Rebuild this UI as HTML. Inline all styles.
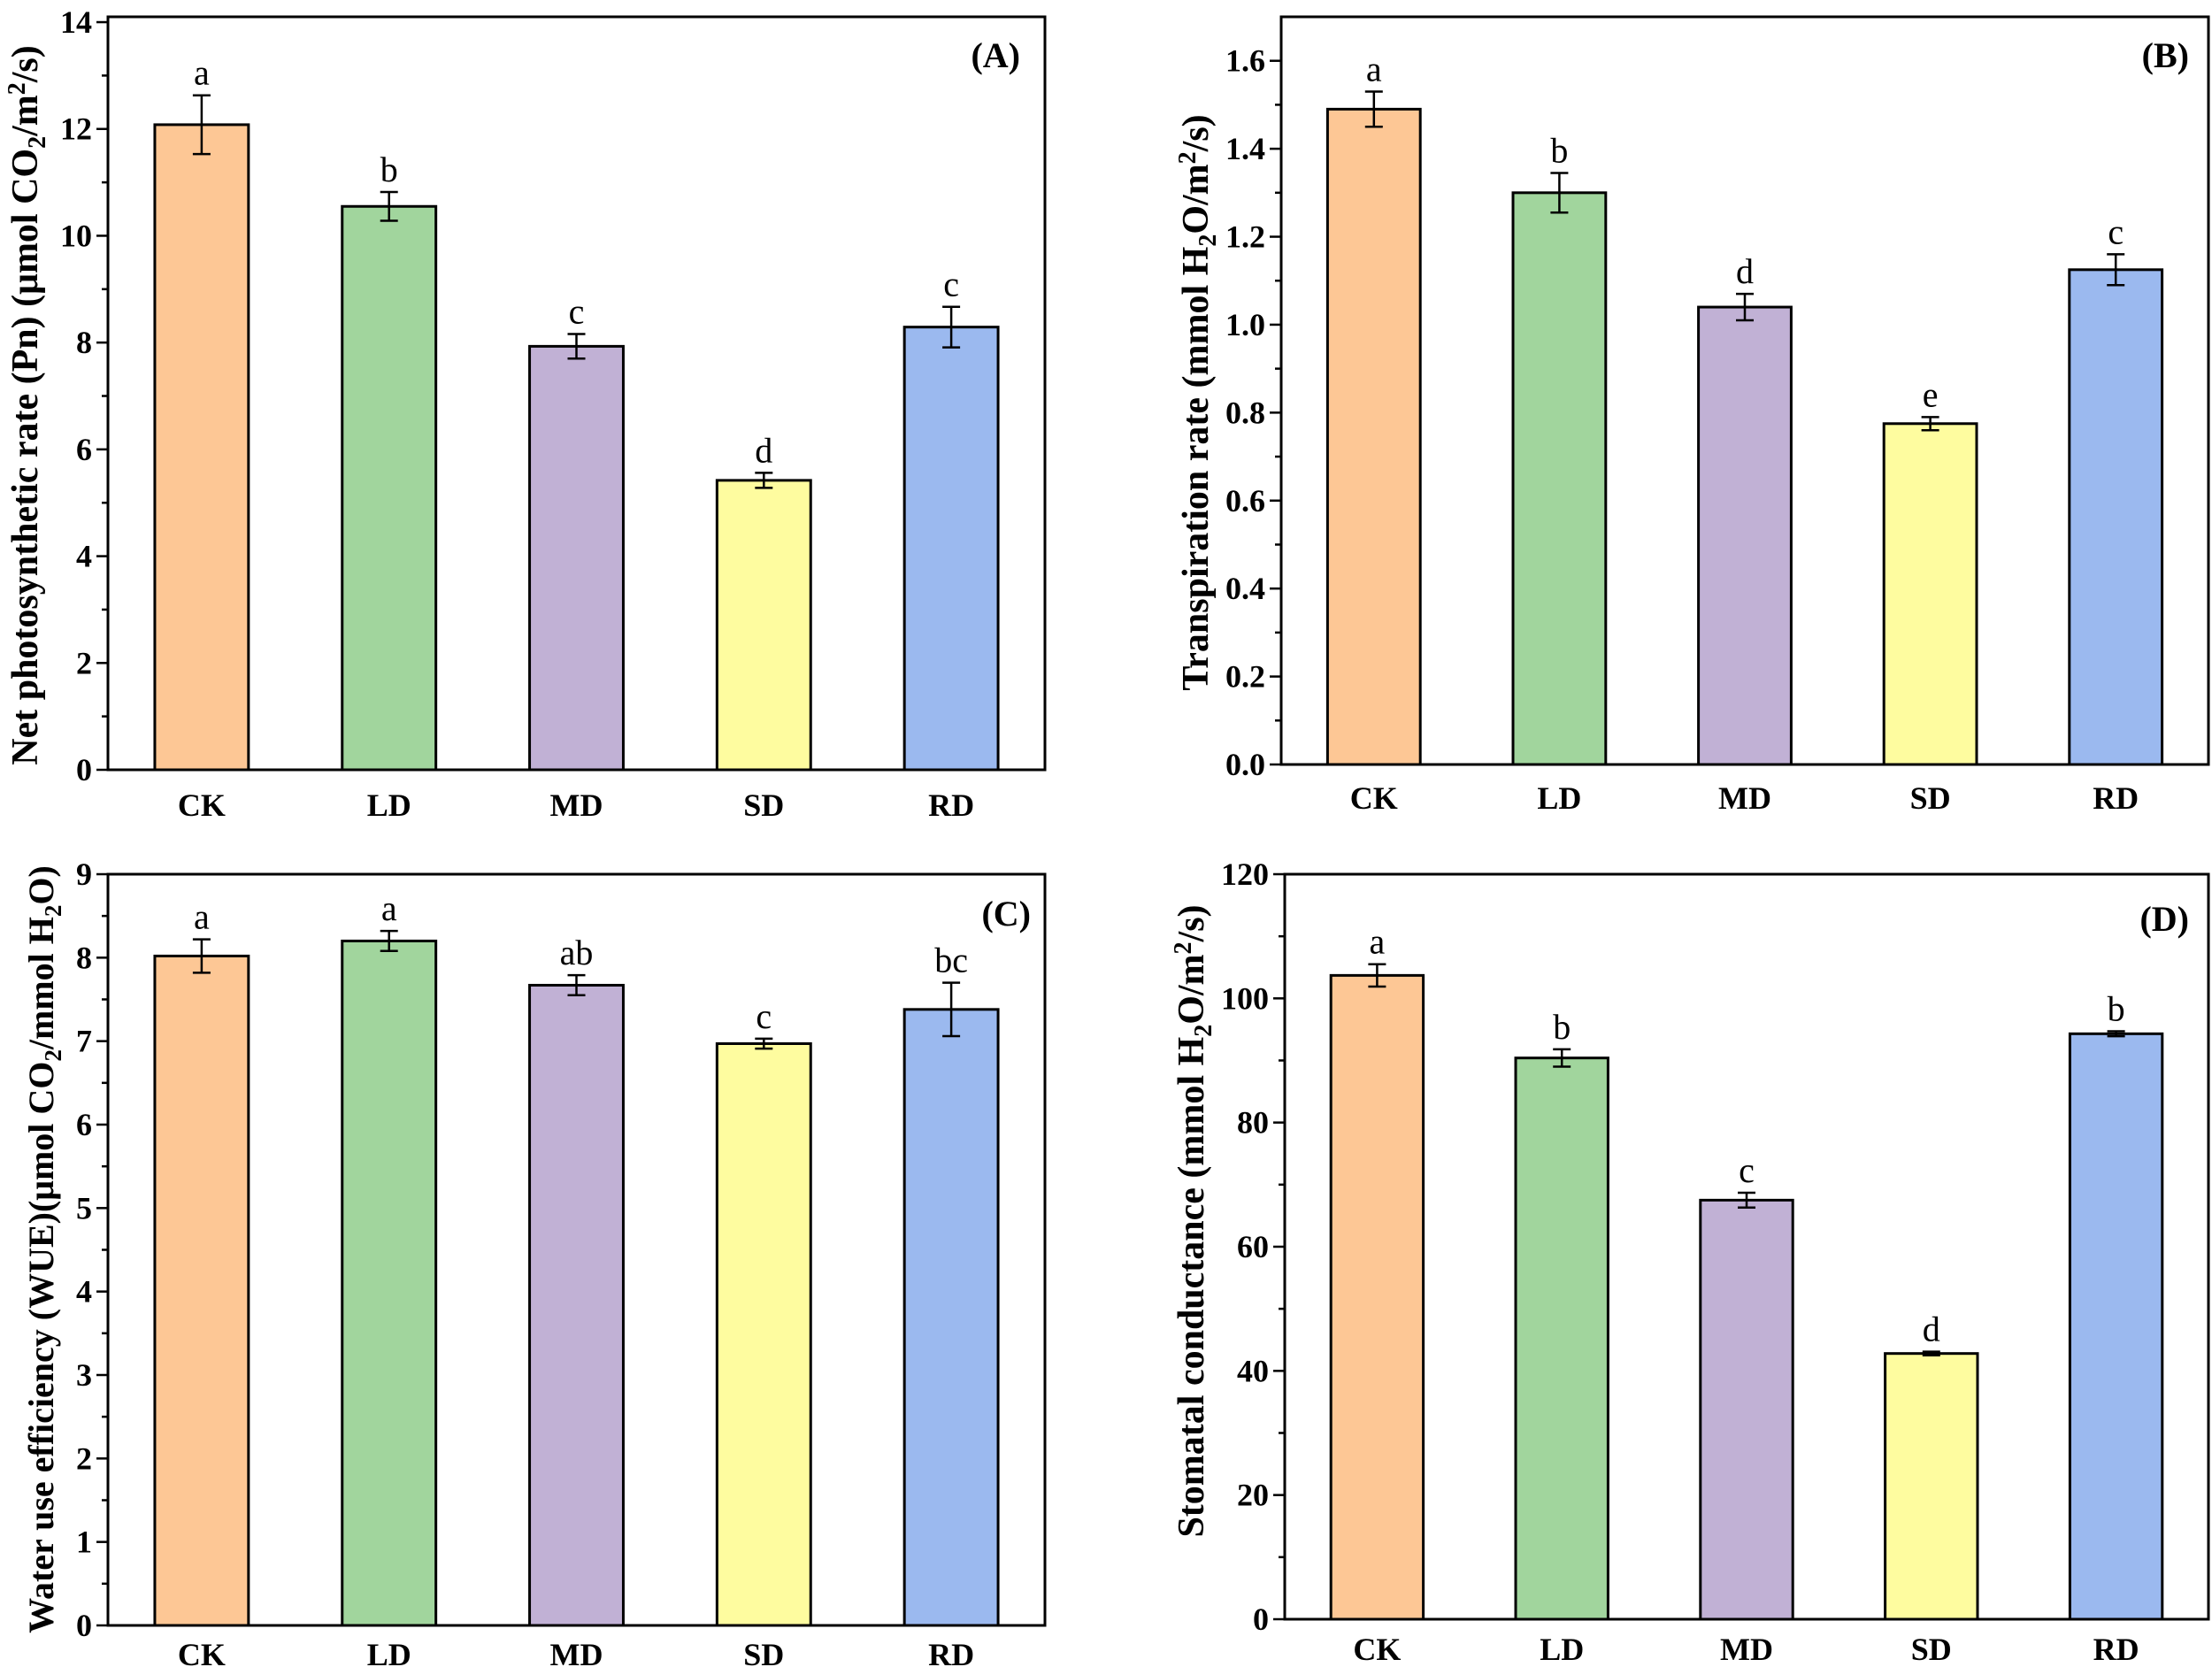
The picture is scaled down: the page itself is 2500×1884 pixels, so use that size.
<!DOCTYPE html>
<html><head><meta charset="utf-8"><style>
html,body{margin:0;padding:0;background:#fff;}
svg{display:block;font-family:"Liberation Serif",serif;}
</style></head><body>
<svg id="fig" width="2500" height="1884" viewBox="0 0 2500 1884" xmlns="http://www.w3.org/2000/svg"></svg>
<script>
const categories = ["CK","LD","MD","SD","RD"];
const barColors = ["#FDC795","#A1D59D","#C1B1D5","#FEFC9F","#9BB9EF"];

const pnValues = [12.08, 10.55, 7.93, 5.42, 8.29];
const pnErrors = [0.55, 0.27, 0.23, 0.14, 0.38];
const pnLetters = ["a","b","c","d","c"];
const pnTicks = [0,2,4,6,8,10,12,14];
const pnTickLabels = ["0","2","4","6","8","10","12","14"];

const trValues = [1.49, 1.30, 1.04, 0.775, 1.125];
const trErrors = [0.04, 0.045, 0.03, 0.015, 0.035];
const trLetters = ["a","b","d","e","c"];
const trTicks = [0,0.2,0.4,0.6,0.8,1.0,1.2,1.4,1.6];
const trTickLabels = ["0.0","0.2","0.4","0.6","0.8","1.0","1.2","1.4","1.6"];

const wueValues = [8.02, 8.20, 7.67, 6.97, 7.38];
const wueErrors = [0.20, 0.12, 0.12, 0.06, 0.32];
const wueLetters = ["a","a","ab","c","bc"];
const wueTicks = [0,1,2,3,4,5,6,7,8,9];
const wueTickLabels = ["0","1","2","3","4","5","6","7","8","9"];

const gsValues = [103.7, 90.4, 67.5, 42.8, 94.3];
const gsErrors = [1.8, 1.4, 1.2, 0.3, 0.4];
const gsLetters = ["a","b","c","d","b"];
const gsTicks = [0,20,40,60,80,100,120];
const gsTickLabels = ["0","20","40","60","80","100","120"];

const NS = "http://www.w3.org/2000/svg";
const svg = document.getElementById("fig");
function mk(tag, attrs, parent){
  const e = document.createElementNS(NS, tag);
  for (const k in attrs) e.setAttribute(k, attrs[k]);
  (parent||svg).appendChild(e);
  return e;
}

function panel(cfg){
  const g = mk("g", {});
  
  
  const W = cfg.right - cfg.left, H = cfg.bottom - cfg.top;
  const y = v => cfg.bottom - v / cfg.ymax * H;
  const band = W / categories.length;
  const xc = i => cfg.left + band * (i + 0.5);
  for (let k = 0; k < cfg.ticks.length - 1; k++) {
    const mv = (cfg.ticks[k] + cfg.ticks[k+1]) / 2;
    const t = mk("line", {x1:cfg.left-7, x2:cfg.left, y1:y(mv), y2:y(mv), stroke:"#000","stroke-width":2.5}, g);
    
    
  }
  if (cfg.extraMinor) {
    const last = cfg.ticks[cfg.ticks.length-1];
    const step = cfg.ticks[1]-cfg.ticks[0];
    const mv = last + step/2;
    if (mv <= cfg.ymax) {
      const t = mk("line", {x1:cfg.left-7, x2:cfg.left, y1:y(mv), y2:y(mv), stroke:"#000","stroke-width":2.5}, g);
      
      
    }
  }
  cfg.ticks.forEach((tv, k) => {
    const t = mk("line", {x1:cfg.left-13, x2:cfg.left, y1:y(tv), y2:y(tv), stroke:"#000","stroke-width":2.5}, g);
    
    
    const lb = mk("text", {x:cfg.left-18, y:y(tv)+12, "text-anchor":"end", "font-size":36, "font-weight":"bold"}, g);
    lb.textContent = cfg.tickLabels[k];
    
    
  });
  const bw = band / 2;
  categories.forEach((c, i) => {
    const v = cfg.values[i], e = cfg.errors[i];
    const r = mk("rect", {x:xc(i)-bw/2, y:y(v), width:bw, height:cfg.bottom-y(v), fill:barColors[i], stroke:"#000","stroke-width":3}, g);
    
    
    const eb = mk("path", {d:`M${xc(i)},${y(v+e)}V${y(v-e)}M${xc(i)-10},${y(v+e)}H${xc(i)+10}M${xc(i)-10},${y(v-e)}H${xc(i)+10}`, stroke:"#000","stroke-width":2.5, fill:"none"}, g);
    
    
    const lt = mk("text", {x:xc(i), y:y(v+e)-12, "text-anchor":"middle", "font-size":40}, g);
    lt.textContent = cfg.letters[i];
    
    
    const cl = mk("text", {x:xc(i), y:cfg.catY, "text-anchor":"middle", "font-size":36, "font-weight":"bold"}, g);
    cl.textContent = c;
    
    
  });
  const fr = mk("rect", {x:cfg.left, y:cfg.top, width:W, height:H, fill:"none", stroke:"#000","stroke-width":3}, g);
  
  
  const pl = mk("text", {x:cfg.labX, y:cfg.labY, "text-anchor":"end", "font-size":40, "font-weight":"bold"}, g);
  pl.textContent = cfg.label;
  
  
  const yt = mk("text", {transform:`translate(${cfg.titleX},${cfg.titleY}) rotate(-90)`, "text-anchor":"middle", "font-size":cfg.titleSize, "font-weight":"bold"}, g);
  yt.innerHTML = cfg.title;
  
  
}

panel({name:"panel-a-net-photosynthesis", left:122, right:1181, top:19, bottom:870, ymax:14.1,
  values:pnValues, errors:pnErrors, letters:pnLetters, ticks:pnTicks, tickLabels:pnTickLabels,
  catY:922, label:"(A)", labX:1153, labY:76, titleX:42, titleY:458, titleSize:42,
  title:'Net photosynthetic rate (Pn) (μmol CO<tspan font-size="28" dy="9">2</tspan><tspan dy="-9">/m</tspan><tspan font-size="28" dy="-14">2</tspan><tspan dy="14">/s)</tspan>'});

panel({name:"panel-b-transpiration", left:1448, right:2496, top:19, bottom:864, ymax:1.7, extraMinor:true,
  values:trValues, errors:trErrors, letters:trLetters, ticks:trTicks, tickLabels:trTickLabels,
  catY:914, label:"(B)", labX:2474, labY:76, titleX:1365, titleY:455, titleSize:42,
  title:'Transpiration rate (mmol H<tspan font-size="28" dy="9">2</tspan><tspan dy="-9">O/m</tspan><tspan font-size="28" dy="-14">2</tspan><tspan dy="14">/s)</tspan>'});

panel({name:"panel-c-water-use-efficiency", left:122, right:1181, top:988, bottom:1837, ymax:9,
  values:wueValues, errors:wueErrors, letters:wueLetters, ticks:wueTicks, tickLabels:wueTickLabels,
  catY:1882, label:"(C)", labX:1165, labY:1046, titleX:60, titleY:1412, titleSize:40,
  title:'Water use efficiency (WUE)(μmol CO<tspan font-size="27" dy="9">2</tspan><tspan dy="-9">/mmol H</tspan><tspan font-size="27" dy="9">2</tspan><tspan dy="-9">O)</tspan>'});

panel({name:"panel-d-stomatal-conductance", left:1452, right:2496, top:988, bottom:1830, ymax:120, extraMinor:true,
  values:gsValues, errors:gsErrors, letters:gsLetters, ticks:gsTicks, tickLabels:gsTickLabels,
  catY:1876, label:"(D)", labX:2474, labY:1052, titleX:1360, titleY:1380, titleSize:42,
  title:'Stomatal conductance (mmol H<tspan font-size="28" dy="9">2</tspan><tspan dy="-9">O/m</tspan><tspan font-size="28" dy="-14">2</tspan><tspan dy="14">/s)</tspan>'});
</script>
</body></html>
